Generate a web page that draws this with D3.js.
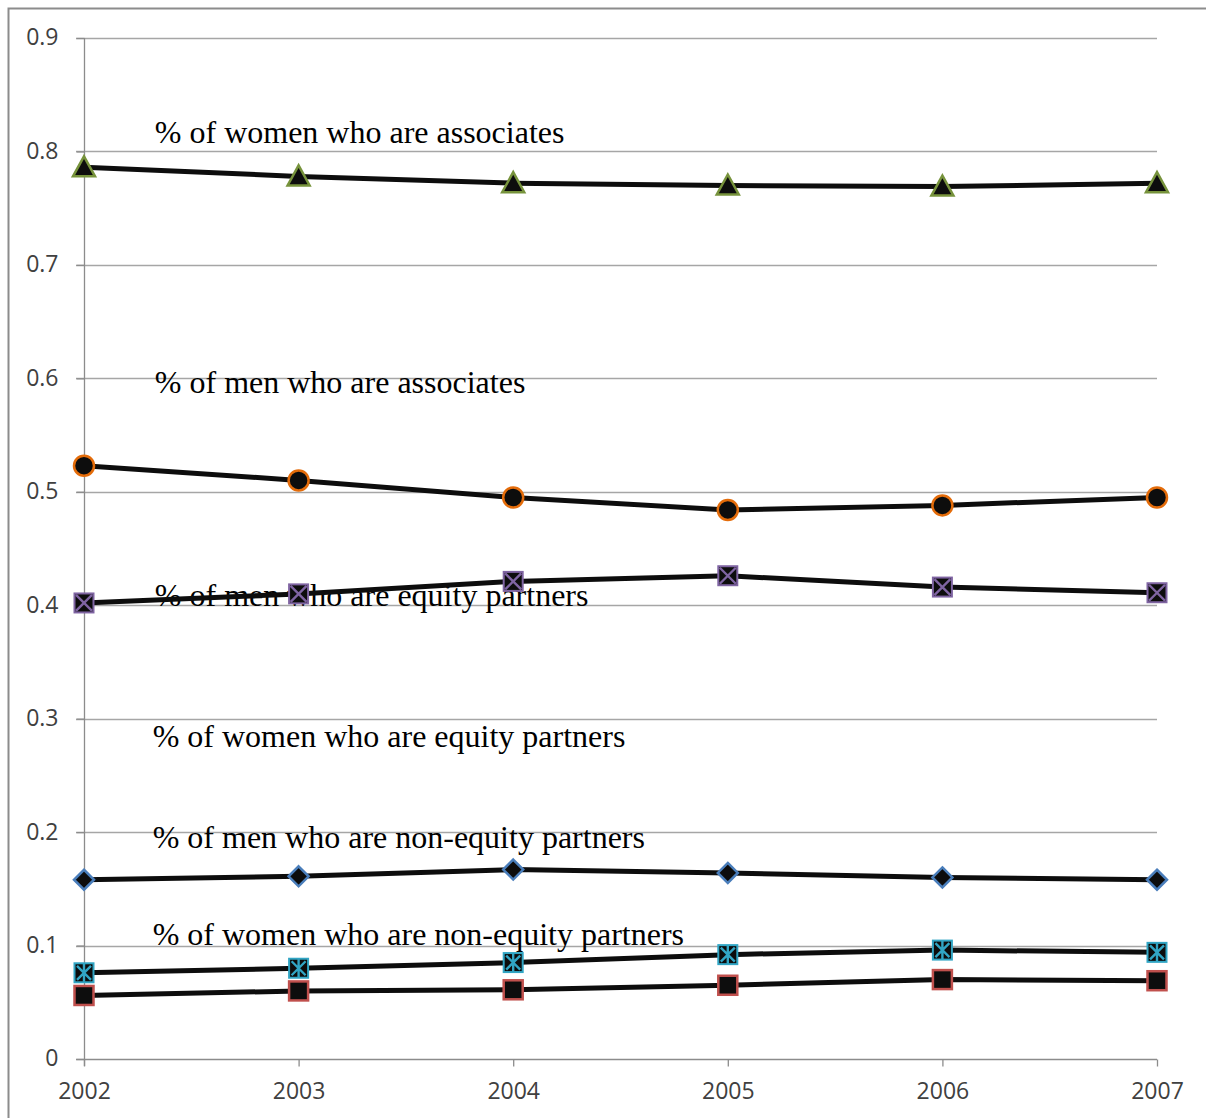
<!DOCTYPE html>
<html>
<head>
<meta charset="utf-8">
<script src="https://cdn.jsdelivr.net/npm/d3@7"></script>
<style>
  html, body { margin: 0; padding: 0; background: #fff; }
  svg { display: block; }
</style>
</head>
<body>
<svg id="chart" width="1206" height="1118"></svg>
<script>
// Years on the x axis
const years = [2002, 2003, 2004, 2005, 2006, 2007];
const yTicks = [0, 0.1, 0.2, 0.3, 0.4, 0.5, 0.6, 0.7, 0.8, 0.9];

// Share of lawyers in each role, by year
const womenAssociates   = [0.786, 0.778, 0.772, 0.770, 0.769, 0.772];
const menAssociates     = [0.523, 0.510, 0.495, 0.484, 0.488, 0.495];
const menEquity         = [0.402, 0.410, 0.421, 0.426, 0.416, 0.411];
const menNonEquity      = [0.158, 0.161, 0.167, 0.164, 0.160, 0.158];
const womenNonEquity    = [0.076, 0.080, 0.085, 0.092, 0.096, 0.094];
const womenEquity       = [0.056, 0.060, 0.061, 0.065, 0.070, 0.069];

// Free-floating text labels (year position, value position of baseline)
const labelTexts  = [
  "% of women who are associates",
  "% of men who are associates",
  "% of men who are equity partners",
  "% of women who are equity partners",
  "% of men who are non-equity partners",
  "% of women who are non-equity partners"
];
const labelYears  = [2002.33, 2002.33, 2002.33, 2002.32, 2002.32, 2002.32];
const labelValues = [0.8075, 0.587, 0.3993, 0.275, 0.186, 0.1005];

const series = [
  { values: womenAssociates, shape: "triangle", edge: "#77933c" },
  { values: menAssociates,   shape: "circle",   edge: "#e46c0a" },
  { values: menEquity,       shape: "xsquare",  edge: "#7f64a2" },
  { values: menNonEquity,    shape: "diamond",  edge: "#4a7ebb" },
  { values: womenNonEquity,  shape: "star",     edge: "#31a5c4" },
  { values: womenEquity,     shape: "square",   edge: "#c0504d" }
];

const tickFont = "'Open Sans', 'DejaVu Sans', sans-serif";

const svg = d3.select("#chart");

// Outer frame
svg.append("path")
  .attr("d", "M8.5,1118 V8.5 H1206")
  .attr("fill", "none")
  .attr("stroke", "#8c8c8c")
  .attr("stroke-width", 2);

const x = d3.scaleLinear().domain([2002, 2007]).range([84, 1157]);
const y = d3.scaleLinear().domain([0, 0.9]).range([1059, 38]);

// Horizontal gridlines
svg.append("g")
  .selectAll("line")
  .data(yTicks.filter(d => d > 0))
  .join("line")
  .attr("x1", 76).attr("x2", 1157)
  .attr("y1", d => Math.round(y(d)) + 0.5)
  .attr("y2", d => Math.round(y(d)) + 0.5)
  .attr("stroke", "#a6a6a6")
  .attr("stroke-width", 1.3);

// Y axis
const yAxis = svg.append("g")
  .attr("transform", "translate(84.5,0)")
  .call(d3.axisLeft(y).tickValues(yTicks).tickSize(8).tickPadding(18)
    .tickFormat(d => d === 0 ? "0" : d3.format(".1f")(d)));
yAxis.select(".domain").attr("stroke", "#8c8c8c").attr("stroke-width", 1.3)
  .attr("d", `M0,${y(0.9)}V${y(0) + 7}`);
yAxis.selectAll(".tick line").attr("stroke", "#8c8c8c").attr("stroke-width", 1.3);
yAxis.selectAll(".tick text")
  .attr("font-family", tickFont)
  .attr("font-size", 23)
  .attr("fill", "#404040")
  .attr("dy", "0.3em");

// X axis
const xAxis = svg.append("g")
  .attr("transform", `translate(0,${Math.round(y(0)) + 0.5})`)
  .call(d3.axisBottom(x).tickValues(years).tickSize(7).tickPadding(16)
    .tickFormat(d3.format("d")));
xAxis.select(".domain").attr("stroke", "#8c8c8c").attr("stroke-width", 1.3)
  .attr("d", `M76,0H${x(2007)}`);
xAxis.selectAll(".tick line").attr("stroke", "#8c8c8c").attr("stroke-width", 1.3);
xAxis.selectAll(".tick text")
  .attr("font-family", tickFont)
  .attr("font-size", 23)
  .attr("fill", "#404040");

// Text labels
svg.append("g")
  .selectAll("text")
  .data(labelTexts)
  .join("text")
  .attr("x", (d, i) => x(labelYears[i]))
  .attr("y", (d, i) => y(labelValues[i]))
  .attr("font-family", "'Liberation Serif', 'Times New Roman', serif")
  .attr("font-size", 32)
  .attr("fill", "#000")
  .text(d => d);

// Lines
const line = d3.line().x((d, i) => x(years[i])).y(d => y(d));
svg.append("g")
  .selectAll("path")
  .data(series)
  .join("path")
  .attr("d", s => line(s.values))
  .attr("fill", "none")
  .attr("stroke", "#0d0d0d")
  .attr("stroke-width", 5)
  .attr("stroke-linejoin", "round");

// Markers
function drawMarker(g, shape, edge) {
  const fill = "#0d0d0d";
  if (shape === "triangle") {
    g.append("path").attr("d", "M0,-11 L11,9 L-11,9 Z")
      .attr("fill", fill).attr("stroke", edge).attr("stroke-width", 2.5);
  } else if (shape === "circle") {
    g.append("circle").attr("r", 10)
      .attr("fill", fill).attr("stroke", edge).attr("stroke-width", 2.5);
  } else if (shape === "diamond") {
    g.append("path").attr("d", "M0,-10 L10,0 L0,10 L-10,0 Z")
      .attr("fill", fill).attr("stroke", edge).attr("stroke-width", 2.5);
  } else if (shape === "square") {
    g.append("rect").attr("x", -9.5).attr("y", -9.5).attr("width", 19).attr("height", 19)
      .attr("fill", fill).attr("stroke", edge).attr("stroke-width", 2.5);
  } else if (shape === "xsquare") {
    g.append("rect").attr("x", -9.5).attr("y", -9.5).attr("width", 19).attr("height", 19)
      .attr("fill", fill).attr("stroke", edge).attr("stroke-width", 2);
    g.append("path").attr("d", "M-8,-8 L8,8 M8,-8 L-8,8")
      .attr("stroke", edge).attr("stroke-width", 2.4);
  } else if (shape === "star") {
    g.append("rect").attr("x", -9.5).attr("y", -9.5).attr("width", 19).attr("height", 19)
      .attr("fill", fill).attr("stroke", edge).attr("stroke-width", 2);
    g.append("path").attr("d", "M-7,-7 L7,7 M7,-7 L-7,7 M0,-9 L0,9")
      .attr("stroke", edge).attr("stroke-width", 2.4);
  }
}

series.forEach(s => {
  const mg = svg.append("g");
  s.values.forEach((v, i) => {
    const g = mg.append("g").attr("transform", `translate(${x(years[i])},${y(v)})`);
    drawMarker(g, s.shape, s.edge);
  });
});
</script>
</body>
</html>
